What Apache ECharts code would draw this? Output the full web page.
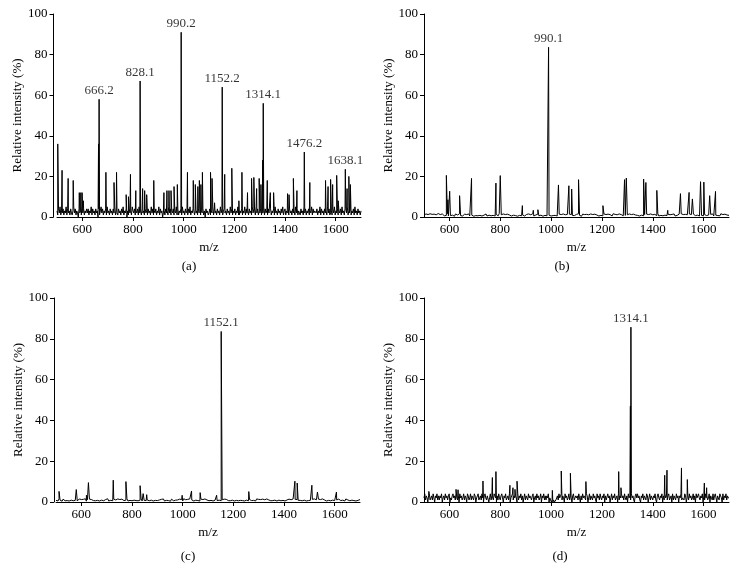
<!DOCTYPE html>
<html><head><meta charset="utf-8">
<script src="https://cdn.jsdelivr.net/npm/echarts@6/dist/echarts.min.js"></script>
<style>html,body{margin:0;padding:0;background:#fff}#c{width:739px;height:584px}</style>
</head><body><div id="c"></div>
<script>
// ---- axis ticks ----
const xTickValues = [600, 800, 1000, 1200, 1400, 1600];
const captions = ['(a)', '(b)', '(c)', '(d)'];

// ---- panel (a) ----  baseline noise, sampled evenly from m/z 500 to 1700
const aNoise = [3,1,4,2,5,1,3,2,4,1,3,2,5,1,4,2,3,1,4,2,
1,3,5,2,4,1,3,2,0,4,2,3,1,5,2,4,1,3,2,4,
2,4,1,3,2,5,1,4,2,3,1,4,2,3,0,4,1,3,5,2,
4,1,3,2,4,1,5,2,3,1,4,2,3,1,4,2,5,1,3,2,
1,4,2,3,1,4,2,5,1,3,2,4,0,3,1,4,2,3,1,5,
3,2,4,1,3,2,4,1,5,2,3,1,4,2,3,1,4,2,3,1,
4,2,3,1,5,2,4,1,3,2,4,1,3,2,5,1,4,2,3,0,
2,3,1,4,2,3,1,5,2,4,1,3,2,4,1,3,2,5,1,4,
1,3,2,4,1,5,2,3,1,4,2,3,1,4,2,5,1,3,2,4,
3,1,4,2,3,1,4,2,5,1,3,2,4,1,3,0,4,2,3,1,
2,4,1,3,2,5,1,4,2,3,1,4,2,3,1,5,2,4,1,3,
4,2,3,1,4,2,3,1,5,2,4,1,3,2,4,1,3,2,5,1,
1,3,2,4,1,3,2,5,1,4,2,3,1,4,2,3,1,5,2,4,
3,1,5,2,4,1,3,2,4,1,3,2,5,1,4,2,3,1,4,2,
2,4,1,3,2,4,1,5,2,3,1,4,2,3,1,4,2,5,1,3,
4,1,3,2,5,1,4,2,3,1,4,2,3,1,5,2,4,1,3,2,
1,4,2,3,1,5,2,4,1,3,2,4,1,3,2,5,1,4,2,3,
3,2,4,1,3,2,5,1,4,2,3,1,4,2,3,1,5,2,4,1,
2,3,1,4,2,5,1,3,2,4,1,3,2,4,1,5,2,3,1,4,
4,2,5,1,3,2,4,1,3,2,4,1,5,2,3,1,4,2,3,1,
3];
const aPeakMz  = [503,520,544,564,588,594,599,604,664,666.2,693,725,735,773,782,790,811,828.1,838,846,854,882,922,934,942,950,962,975,990.2,1015,1038,1046,1056,1062,1068,1074,1106,1112,1122,1152.2,1162,1190,1218,1230,1252,1268,1277,1288,1298,1305,1312,1314.1,1330,1342,1355,1410,1416,1433,1447,1476.2,1498,1560,1570,1580,1588,1604,1610,1638.1,1645,1652,1658];
const aPeakInt = [36,23,19,18,12,12,12,8,36,58,22,17,22,11,10,21,13,67,14,13,11,18,12,13,13,13,15,16,91,22,18,16,15,18,16,22,22,19,7,64,21,24,8,22,12,19,19.5,14,19,16,28,56,18,12,12,11.5,11,19,13,32,17,18,15,18.5,16,20.5,8,23.5,14,20,16];
const aLabels = ['666.2','828.1','990.2','1152.2','1314.1','1476.2','1638.1'];
const aLabelInt = [58,67,91,64,56,32,23.5];

// ---- panel (b) ----
const bNoise = [1.0,0.5,1.5,0.8,1.2,0.4,1.6,0.9,1.3,0.6,1.4,0.7,1.1,0.5,1.7,0.8,1.2,0.4,1.5,0.9,
0.6,1.3,0.8,1.6,0.5,1.1,0.7,1.4,0.9,1.2,0.4,1.5,0.8,1.0,0.6,1.6,0.7,1.3,0.5,1.1,
1.4,0.6,1.2,0.8,1.5,0.5,1.0,0.9,1.6,0.4,1.3,0.7,1.1,0.6,1.5,0.8,1.2,0.5,1.4,0.9,
0.7,1.5,0.5,1.2,0.9,1.6,0.6,1.1,0.8,1.4,0.5,1.3,1.0,0.6,1.7,0.8,1.1,0.4,1.5,0.7,
1.2,0.8,1.4,0.6,1.0,1.5,0.5,1.3,0.9,1.1,0.7,1.6,0.4,1.2,0.8,1.4,0.6,1.0,1.5,0.5,
0.9,1.3,0.7,1.5,0.6,1.1,0.8,1.6,0.5,1.2,1.0,0.7,1.4,0.6,1.3,0.9,1.5,0.4,1.1,0.8,
1.5,0.6,1.2,0.9,1.4,0.5,1.1,0.7,1.6,0.8,1.3,0.5,1.0,1.4,0.6,1.2,0.8,1.5,0.7,1.1,
0.5,1.3,0.9,1.4,0.6,1.2,0.8,1.5,0.7,1.0,1.3,0.6,1.6,0.8,1.1,0.4,1.4,0.9,1.2,0.7,
1.3,0.8,1.1,0.5,1.5,0.9,1.2,0.6,1.4,0.7,1.0,1.6,0.5,1.3,0.8,1.1,0.6,1.5,0.9,1.2,
0.7,1.4,0.6,1.2,1.0,0.5,1.6,0.8,1.3,0.9,1.1,0.4,1.5,0.7,1.2,1.0,0.6,1.4,0.8,1.3,
1.1,0.6,1.5,0.9,1.2,0.5,1.4,0.7,1.0,1.6,0.8,1.3,0.5,1.1,0.9,1.5,0.6,1.2,0.7,1.4,
0.8,1.2,0.5,1.5,0.9,1.1,0.6,1.3,1.0,0.7,1.6,0.5,1.2,0.8,1.4,0.6,1.1,0.9,1.5,0.7,
1.4,0.7,1.1,0.6,1.3,0.9,1.5,0.5,1.2,0.8,1.0,1.4,0.6,1.6,0.7,1.2,0.5,1.3,0.9,1.1,
0.6,1.5,0.8,1.2,0.5,1.4,1.0,0.7,1.3,0.9,1.6,0.5,1.1,0.8,1.4,0.6,1.2,1.0,0.7,1.5,
1.0,0.6,1.3,0.8,1.5,0.5,1.2,0.9,1.4,0.7,1.1,0.6,1.6,0.8,1.2,0.5,1.4,0.9,1.0,1.3,
0.8];
const bPeakMz  = [588,594,601,640,687,783,800,887,930,948,990.1,1029,1070,1081,1108,1204,1289,1296,1364,1366,1373,1416,1459,1509,1543,1556,1588,1601,1624,1647];
const bPeakInt = [20.5,8.5,12.7,10.5,19,16.7,20.4,5.6,3.3,3.6,83.6,15.8,15.4,13.8,18.4,5.6,18.4,19.2,18.7,11,17,13.1,3.3,11.5,12.1,8.9,17.4,17.2,10.5,12.6];
const bLabels = ['990.1'];
const bLabelInt = [83.6];

// ---- panel (c) ----
const cNoise = [0.8,1.3,0.5,1.6,0.9,1.2,0.4,1.4,1.0,0.6,1.5,0.7,1.1,0.5,1.3,0.9,1.6,0.6,1.2,0.8,
1.4,0.5,1.0,1.5,0.7,1.2,0.6,1.3,0.9,1.6,0.4,1.1,0.8,1.4,0.5,1.2,1.0,0.7,1.5,0.6,
1.1,0.8,1.4,0.5,1.3,0.9,1.5,0.6,1.0,1.2,0.7,1.6,0.5,1.1,0.8,1.3,0.6,1.4,0.9,1.0,
0.6,1.5,0.8,1.2,0.5,1.4,1.0,0.7,1.3,0.9,1.6,0.5,1.1,0.8,1.4,0.6,1.2,0.9,1.5,0.7,
1.3,0.6,1.1,0.9,1.5,0.5,1.2,0.8,1.4,0.7,1.0,1.6,0.6,1.3,0.9,1.1,0.5,1.4,0.8,1.2,
0.7,1.4,1.0,0.6,1.3,0.9,1.5,0.5,1.2,0.8,1.6,0.7,1.1,0.4,1.4,1.0,0.6,1.3,0.9,1.5,
1.0,0.6,1.4,0.8,1.2,0.5,1.6,0.9,1.1,0.7,1.3,0.6,1.5,0.8,1.0,1.4,0.5,1.2,0.9,1.3,
0.7,1.1,0.5,1.4,0.8,1.2,0.6,1.5,0.9,1.0,1.2,0.6,1.4,0.8,1.3,0.5,1.1,0.9,1.6,0.7,
1.2,0.9,1.5,0.6,1.1,0.8,1.4,0.5,1.3,1.0,0.7,1.5,0.6,1.2,0.9,1.4,0.5,1.1,0.8,1.3,
0.6,1.2,0.8,1.5,0.7,1.3,0.5,1.1,0.9,1.6,0.6,1.2,1.0,0.7,1.4,0.8,1.3,0.5,1.5,0.9,
1.3,0.7,1.2,0.5,1.4,0.9,1.1,0.6,1.5,0.8,1.0,1.3,0.6,1.4,0.7,1.2,0.9,1.6,0.5,1.1,
0.9,1.4,0.6,1.3,0.8,1.5,0.5,1.2,1.0,0.7,1.4,0.6,1.1,0.9,1.5,0.7,1.3,0.5,1.2,0.8,
1.5,0.8,1.1,0.6,1.3,0.9,1.4,0.5,1.2,0.7,1.6,0.8,1.0,1.3,0.6,1.5,0.9,1.1,0.7,1.4,
0.6,1.2,0.9,1.5,0.7,1.0,1.3,0.5,1.4,0.8,1.1,0.6,1.5,0.9,1.2,0.7,1.3,1.0,0.5,1.4,
1.1,0.7,1.4,0.9,1.2,0.5,1.5,0.8,1.0,1.3,0.6,1.4,0.9,1.1,0.7,1.6,0.5,1.2,0.8,1.0,
1.2];
const cPeakMz  = [512,580,620,628,726,776,832,844,858,998,1035,1069,1134,1152.1,1261,1443,1452,1510,1532,1607];
const cPeakInt = [5.2,6.1,3.3,9.5,10.7,10,8,4.1,3.6,3.3,5.4,4.6,3.3,83.6,5.1,10.2,9.3,8.2,4.9,4.9];
const cLabels = ['1152.1'];
const cLabelInt = [83.6];

// ---- panel (d) ----
const dNoise = [2,4,1,3,2,0,3,4,1,2,3,1,4,2,0,3,2,4,1,3,
1,3,2,4,0,2,3,1,4,2,3,1,3,4,0,2,1,3,4,2,
3,1,4,2,1,3,0,4,2,3,1,2,4,1,3,2,0,4,3,1,
2,4,1,3,2,1,4,3,0,2,3,4,1,2,3,1,4,2,0,3,
4,2,1,3,3,0,2,4,1,3,2,1,4,3,2,0,3,1,4,2,
1,3,4,2,0,3,2,4,1,2,3,1,4,0,2,3,4,1,3,2,
3,2,0,4,1,3,2,4,1,3,0,2,4,1,3,2,1,4,2,3,
2,1,3,4,0,2,3,1,4,2,3,1,2,4,0,3,2,4,1,3,
1,3,2,4,0,2,1,0,1,0,1,0,0,1,2,3,1,4,2,3,
4,1,3,2,0,4,2,3,1,2,4,1,3,2,0,3,4,1,2,3,
2,3,1,4,2,0,3,1,4,2,3,2,1,4,3,0,2,4,1,3,
3,1,4,2,3,1,0,4,2,3,1,4,2,1,3,2,4,0,3,1,
1,4,2,3,0,2,4,1,3,2,4,1,2,3,0,4,1,3,2,4,
2,3,1,4,2,1,3,0,4,2,3,1,4,2,3,1,0,3,4,2,
4,2,3,1,0,3,2,4,1,3,2,1,4,3,0,2,4,1,3,2,
1,3,2,4,1,0,3,4,2,1,3,2,4,0,3,1,4,2,3,1,
3,4,1,2,3,0,4,1,3,2,1,4,2,3,0,3,2,4,1,2,
2,1,4,3,0,2,3,1,4,2,3,1,2,4,1,3,0,4,2,3,
4,2,1,3,2,4,0,3,1,4,2,3,1,2,4,0,3,2,1,4,
1,3,4,2,0,3,2,1,4,3,2,0,4,1,3,2,4,1,3,2,
2];
const dPeakMz  = [519,626,634,732,769,783,838,850,858,866,1005,1040,1076,1137,1152,1266,1275,1312,1314.1,1447,1456,1513,1536,1603,1612];
const dPeakInt = [5.2,6.2,6,10.3,12,14.9,8.2,7,6.2,10.2,5.7,15.2,14.1,10,4.9,14.9,7,47,85.7,13.1,15.6,16.7,11,9.3,7];
const dLabels = ['1314.1'];
const dLabelInt = [85.7];

const panels = [
  {noise:aNoise, mz:aPeakMz, it:aPeakInt, labels:aLabels, li:aLabelInt},
  {noise:bNoise, mz:bPeakMz, it:bPeakInt, labels:bLabels, li:bLabelInt},
  {noise:cNoise, mz:cPeakMz, it:cPeakInt, labels:cLabels, li:cLabelInt},
  {noise:dNoise, mz:dPeakMz, it:dPeakInt, labels:dLabels, li:dLabelInt}
];

// layout
const grids = [
  {left:57, top:14, width:304, height:203},
  {left:424, top:14, width:305, height:203},
  {left:56, top:298, width:304, height:204},
  {left:424, top:298, width:305, height:204}
];
const yOffsets = [3.5, 0, 2, 0];
const captionPos = [[189,267],[562,267],[188,557],[560,557]];

const FONT = 'Liberation Serif';
const txt = {fontFamily: FONT, fontSize: 13, color: '#000'};

function buildLine(p){
  const n = p.noise.length;
  const pts = p.noise.map((v,i)=>[500 + i*1200/(n-1), v]);
  p.mz.forEach((m,i)=>pts.push([m, p.it[i]]));
  pts.sort((u,v)=>u[0]-v[0]);
  return pts;
}

const xAxis = [], yAxis = [], series = [], graphic = [];
panels.forEach((p, k)=>{
  xAxis.push({
    type:'value', gridIndex:k, min:500, max:1700,
    name:'m/z', nameLocation:'middle', nameGap:24, nameTextStyle:txt,
    axisLine:{show:true, onZero:false, lineStyle:{color:'#000', width:1}},
    axisTick:{show:true, inside:false, length:4, customValues:xTickValues, lineStyle:{color:'#000'}},
    axisLabel:{show:true, customValues:xTickValues, margin:6, formatter:(v)=>String(v), ...txt},
    splitLine:{show:false}
  });
  yAxis.push({
    type:'value', gridIndex:k, min:0, max:100, interval:20, offset:yOffsets[k],
    name:'Relative intensity (%)', nameLocation:'middle', nameGap:29, nameTextStyle:txt,
    axisLine:{show:true, lineStyle:{color:'#000', width:1}},
    axisTick:{show:true, inside:false, length:4, lineStyle:{color:'#000'}},
    axisLabel:{margin:6, formatter:(v)=>String(v), ...txt},
    splitLine:{show:false}
  });
  series.push({
    type:'line', xAxisIndex:k, yAxisIndex:k, data:buildLine(p),
    showSymbol:false, symbol:'none', silent:true, sampling:null,
    lineStyle:{color:'#000', width:1}
  });
  series.push({
    type:'scatter', xAxisIndex:k, yAxisIndex:k, symbolSize:0, silent:true, z:5,
    data:p.labels.map((s,i)=>[parseFloat(s), p.li[i], s]),
    label:{show:true, position:'top', distance:2, formatter:(q)=>q.data[2], ...txt}
  });
  graphic.push({
    type:'text', x:captionPos[k][0], y:captionPos[k][1],
    style:{text:captions[k], font:'13px "Liberation Serif"', fill:'#000', align:'center', verticalAlign:'middle'}
  });
});

const chart = echarts.init(document.getElementById('c'), null, {renderer:'canvas'});
chart.setOption({
  animation:false,
  backgroundColor:'#fff',
  grid: grids,
  xAxis, yAxis, series, graphic
});
</script>
</body></html>
